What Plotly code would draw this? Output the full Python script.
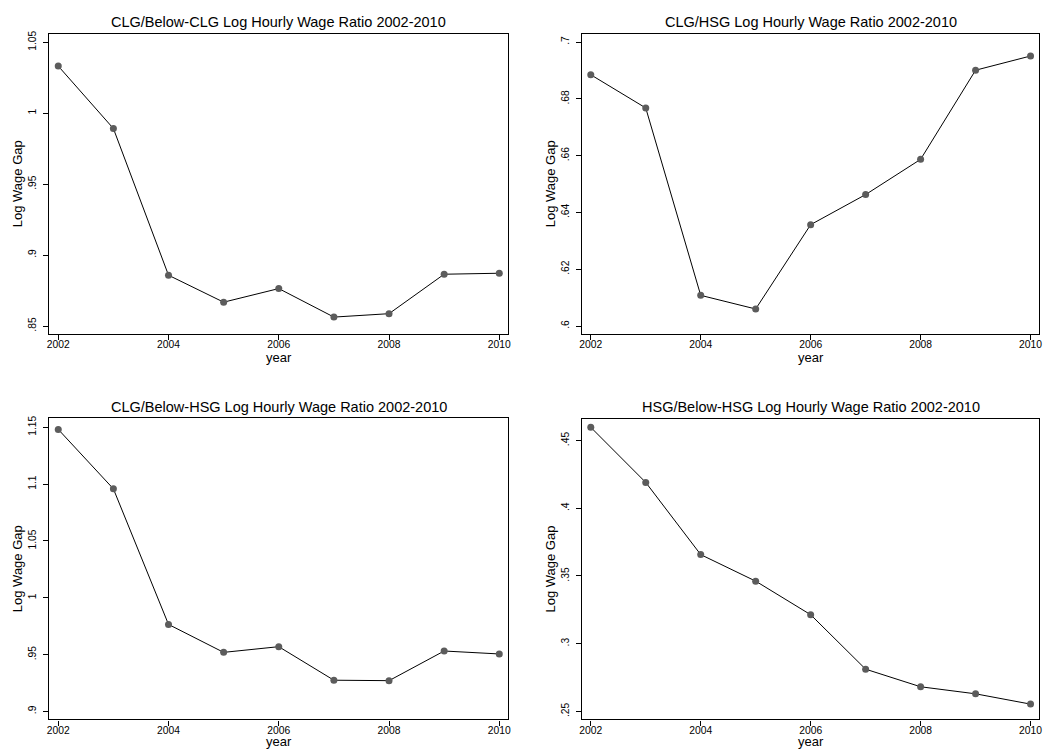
import plotly.graph_objects as go

years = [2002, 2003, 2004, 2005, 2006, 2007, 2008, 2009, 2010]

clg_below_clg = [1.0332, 0.9892, 0.8858, 0.8668, 0.8764, 0.8563, 0.8587, 0.8865, 0.8872]
clg_hsg = [0.6885, 0.6768, 0.6108, 0.6060, 0.6357, 0.6463, 0.6587, 0.6901, 0.6951]
clg_below_hsg = [1.1482, 1.0959, 0.9766, 0.9520, 0.9570, 0.9275, 0.9271, 0.9532, 0.9506]
hsg_below_hsg = [0.4598, 0.4191, 0.3658, 0.3462, 0.3214, 0.2812, 0.2682, 0.2630, 0.2554]

titles = [
    "CLG/Below-CLG Log Hourly Wage Ratio 2002-2010",
    "CLG/HSG Log Hourly Wage Ratio 2002-2010",
    "CLG/Below-HSG Log Hourly Wage Ratio 2002-2010",
    "HSG/Below-HSG Log Hourly Wage Ratio 2002-2010",
]

y_ticks = [
    [0.85, 0.9, 0.95, 1.0, 1.05],
    [0.6, 0.62, 0.64, 0.66, 0.68, 0.7],
    [0.9, 0.95, 1.0, 1.05, 1.1, 1.15],
    [0.25, 0.3, 0.35, 0.4, 0.45],
]
y_tick_text = [
    [".85", ".9", ".95", "1", "1.05"],
    [".6", ".62", ".64", ".66", ".68", ".7"],
    [".9", ".95", "1", "1.05", "1.1", "1.15"],
    [".25", ".3", ".35", ".4", ".45"],
]
y_ranges = [
    [0.8444, 1.0561],
    [0.5972, 0.7030],
    [0.8930, 1.1582],
    [0.2441, 0.4662],
]
x_ticks = [2002, 2004, 2006, 2008, 2010]

series = [clg_below_clg, clg_hsg, clg_below_hsg, hsg_below_hsg]

W, H = 1050, 749
# panel frames in pixels: (left, right, top, bottom)
frames = [
    (46.7, 508.0, 30.7, 332.3),
    (582.3, 1042.3, 30.7, 332.3),
    (46.7, 508.0, 416.7, 719.3),
    (582.3, 1042.3, 417.3, 719.3),
]
title_y = [19.5, 19.5, 406.0, 406.0]

FONT = "Liberation Sans, Arial, Helvetica, sans-serif"

fig = go.Figure()
layout = dict(
    width=W,
    height=H,
    margin=dict(l=0, r=0, t=0, b=0),
    paper_bgcolor="white",
    plot_bgcolor="white",
    showlegend=False,
    font=dict(family=FONT, color="black"),
    annotations=[],
)

for i, (vals, ttl) in enumerate(zip(series, titles)):
    n = "" if i == 0 else str(i + 1)
    fig.add_trace(go.Scatter(
        x=years, y=vals, mode="lines+markers",
        line=dict(color="black", width=1),
        marker=dict(color="#5c5c5c", size=7),
        xaxis="x" + n, yaxis="y" + n,
    ))
    l, r, t, b = frames[i]
    layout["xaxis" + n] = dict(
        domain=[l / W, r / W], anchor="y" + n,
        range=[2001.84, 2010.16],
        tickvals=x_ticks, ticktext=[str(v) for v in x_ticks],
        ticks="outside", ticklen=5, tickwidth=1, tickcolor="black",
        ticklabelstandoff=-4,
        tickfont=dict(size=10.3, family=FONT),
        showgrid=False, zeroline=False,
        showline=True, linecolor="black", linewidth=1.3, mirror=True,
        title=dict(text="year", font=dict(size=13, family=FONT), standoff=3),
    )
    layout["yaxis" + n] = dict(
        domain=[1 - b / H, 1 - t / H], anchor="x" + n,
        range=y_ranges[i],
        tickvals=y_ticks[i], ticktext=y_tick_text[i],
        tickangle=-90,
        ticks="outside", ticklen=5, tickwidth=1, tickcolor="black",
        ticklabelstandoff=3,
        tickfont=dict(size=10.3, family=FONT),
        showgrid=False, zeroline=False,
        showline=True, linecolor="black", linewidth=1.3, mirror=True,
        title=dict(text="Log Wage Gap", font=dict(size=13, family=FONT), standoff=1),
    )
    layout["annotations"].append(dict(
        text=ttl, x=(l + r) / 2 / W, y=1 - title_y[i] / H,
        xref="paper", yref="paper", xanchor="center", yanchor="middle",
        showarrow=False, font=dict(size=14.5, family=FONT, color="black"),
    ))

fig.update_layout(**layout)
fig.write_html("out.html")
